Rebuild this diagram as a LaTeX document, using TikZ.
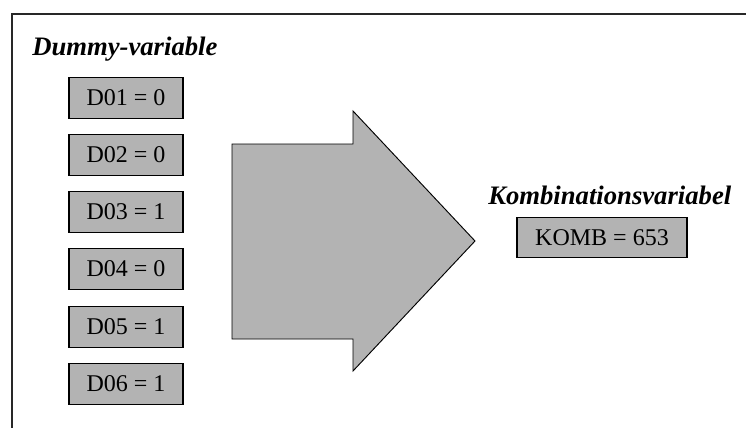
\documentclass[tikz,border=0pt]{standalone}
\usepackage{fontspec}
\setmainfont{Liberation Serif}
\usepackage{tikz}
\definecolor{boxgray}{RGB}{179,179,179}

\begin{document}
\begin{tikzpicture}[x=0.75pt,y=0.75pt,yscale=-1,xscale=1,
  varbox/.style={draw=black,line width=0.8pt,fill=boxgray,inner sep=0pt,minimum height=30.5pt,font=\fontsize{18}{20}\selectfont},
  headline/.style={inner sep=0pt,anchor=base west,font=\fontsize{20}{22}\selectfont\bfseries\itshape}]
\useasboundingbox (0,0) rectangle (746,428);
%frame
\draw [line width=1.3pt,draw={rgb, 255:red, 40; green, 40; blue, 40 }] (746,14) -- (12,14) -- (12,428) ;
%big arrow
\draw [line width=0.7pt,fill=boxgray] (232,144) -- (353,144) -- (353,111) -- (475,241) -- (353,371) -- (353,339) -- (232,339) -- cycle ;
\node [headline] (dummy) at (32,56) {Dummy-variable};
\node [varbox,minimum width=85.5pt] (d01) at (126,98) {D01 = 0};
\node [varbox,minimum width=85.5pt] (d02) at (126,155) {D02 = 0};
\node [varbox,minimum width=85.5pt] (d03) at (126,212) {D03 = 1};
\node [varbox,minimum width=85.5pt] (d04) at (126,269) {D04 = 0};
\node [varbox,minimum width=85.5pt] (d05) at (126,327) {D05 = 1};
\node [varbox,minimum width=85.5pt] (d06) at (126,384) {D06 = 1};
\node [headline] (kombi) at (488,204) {Kombinationsvariabel};
\node [varbox,minimum width=127.5pt] (komb) at (602,237.5) {KOMB = 653};
\end{tikzpicture}
\end{document}
